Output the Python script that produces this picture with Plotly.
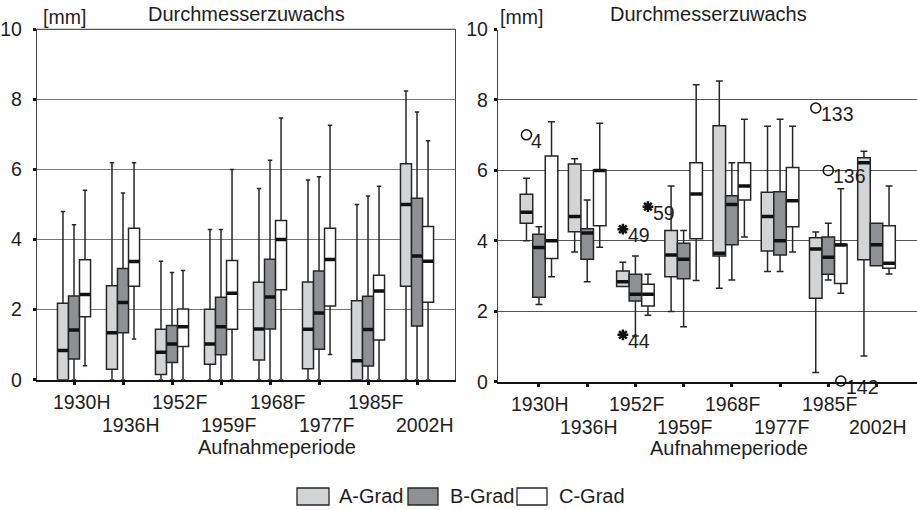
import plotly.graph_objects as go

W, H = 917, 510

categories = ["1930H", "1936H", "1952F", "1959F", "1968F", "1977F", "1985F", "2002H"]
grades = ["A-Grad", "B-Grad", "C-Grad"]

# ---- left panel (values in mm) ----
L_A_lo = [0, 0, 0, 0, 0, 0, 0, 0]
L_A_q1 = [0, 0.30, 0.15, 0.44, 0.56, 0.31, 0, 2.67]
L_A_med = [0.83, 1.34, 0.78, 1.02, 1.45, 1.44, 0.54, 5.0]
L_A_q3 = [2.18, 2.68, 1.44, 2.01, 2.78, 2.79, 2.25, 6.16]
L_A_hi = [4.80, 6.19, 3.38, 4.29, 5.46, 5.70, 5.0, 8.24]

L_B_lo = [0, 0, 0, 0, 0, 0, 0, 0]
L_B_q1 = [0.59, 1.34, 0.49, 0.71, 1.45, 0.87, 0.39, 1.53]
L_B_med = [1.42, 2.20, 1.02, 1.51, 2.36, 1.90, 1.43, 3.53]
L_B_q3 = [2.39, 3.17, 1.55, 2.35, 3.44, 3.10, 2.38, 5.18]
L_B_hi = [4.42, 5.33, 3.06, 4.29, 6.26, 5.79, 5.24, 7.64]

L_C_lo = [0.40, 1.16, 0, 0, 0, 0.72, 0, 0]
L_C_q1 = [1.80, 2.67, 0.95, 1.44, 2.57, 2.10, 1.13, 2.21]
L_C_med = [2.43, 3.37, 1.51, 2.47, 4.0, 3.43, 2.53, 3.38]
L_C_q3 = [3.42, 4.32, 2.02, 3.40, 4.54, 4.32, 2.98, 4.37]
L_C_hi = [5.41, 6.19, 3.12, 6.0, 7.47, 7.26, 5.52, 6.82]

# ---- right panel (values in mm) ----
R_A_lo = [4.0, 3.68, 2.70, 1.99, 2.65, 3.13, 0.26, 0.73]
R_A_q1 = [4.50, 4.26, 2.70, 2.98, 3.57, 3.71, 2.37, 3.46]
R_A_med = [4.81, 4.69, 2.84, 3.60, 3.65, 4.69, 3.77, 6.22]
R_A_q3 = [5.32, 6.18, 3.14, 4.29, 7.27, 5.38, 4.09, 6.36]
R_A_hi = [5.78, 6.33, 3.39, 5.56, 8.54, 7.25, 4.25, 6.54]

R_B_lo = [2.19, 2.84, 1.30, 1.56, 2.89, 3.13, 2.89, 3.29]
R_B_q1 = [2.40, 3.48, 2.29, 2.92, 3.89, 3.60, 3.05, 3.29]
R_B_med = [3.81, 4.22, 2.48, 3.48, 5.03, 4.0, 3.53, 3.89]
R_B_q3 = [4.19, 4.34, 3.05, 3.93, 5.28, 5.39, 4.11, 4.50]
R_B_hi = [4.40, 5.16, 3.57, 4.29, 6.22, 7.45, 4.50, 4.50]

R_C_lo = [2.98, 3.82, 1.89, 2.87, 4.11, 3.68, 2.51, 3.06]
R_C_q1 = [3.50, 4.43, 2.15, 4.06, 5.16, 4.40, 2.79, 3.22]
R_C_med = [4.0, 6.0, 2.48, 5.33, 5.56, 5.14, 3.88, 3.36]
R_C_q3 = [6.41, 6.02, 2.77, 6.22, 6.22, 6.08, 3.90, 4.43]
R_C_hi = [7.38, 7.34, 3.05, 8.43, 7.45, 7.25, 5.48, 5.56]

# outliers / extremes (right panel)
R_out_cat = ["1930H", "1952F", "1952F", "1952F", "1985F", "1985F", "1985F"]
R_out_grade = ["A-Grad", "A-Grad", "A-Grad", "C-Grad", "A-Grad", "B-Grad", "C-Grad"]
R_out_val = [7.01, 4.33, 1.33, 4.97, 7.77, 6.0, 0.02]
R_out_label = ["4", "49", "44", "59", "133", "136", "142"]
R_out_kind = ["o", "*", "*", "*", "o", "o", "o"]

y_ticks = [0, 2, 4, 6, 8, 10]

FONT = "Liberation Sans, Arial, Helvetica, sans-serif"
TXT = "#1e1e1e"
fills = {"A-Grad": "#d3d4d6", "B-Grad": "#8f9093", "C-Grad": "#ffffff"}
EDGE = "#262626"

left_stats = {
    "A-Grad": (L_A_lo, L_A_q1, L_A_med, L_A_q3, L_A_hi),
    "B-Grad": (L_B_lo, L_B_q1, L_B_med, L_B_q3, L_B_hi),
    "C-Grad": (L_C_lo, L_C_q1, L_C_med, L_C_q3, L_C_hi),
}
right_stats = {
    "A-Grad": (R_A_lo, R_A_q1, R_A_med, R_A_q3, R_A_hi),
    "B-Grad": (R_B_lo, R_B_q1, R_B_med, R_B_q3, R_B_hi),
    "C-Grad": (R_C_lo, R_C_q1, R_C_med, R_C_q3, R_C_hi),
}

panels = [
    dict(stats=left_stats, xa="x", ya="y", bw=0.225, ww=0.4),
    dict(stats=right_stats, xa="x2", ya="y2", bw=0.26, ww=0.55),
]

fig = go.Figure()
idx = list(range(len(categories)))

for p in panels:
    bw = p["bw"]
    for gi, g in enumerate(grades):
        lo, q1, med, q3, hi = p["stats"][g]
        pos = [i + (gi - 1) * bw for i in idx]
        fig.add_trace(go.Box(
            x=pos, q1=q1, median=med, q3=q3, lowerfence=lo, upperfence=hi,
            width=bw, fillcolor=fills[g], line=dict(color=EDGE, width=1.5),
            whiskerwidth=p["ww"], xaxis=p["xa"], yaxis=p["ya"],
            showlegend=False, hoverinfo="skip"))
    # thick median bars
    for gi, g in enumerate(grades):
        lo, q1, med, q3, hi = p["stats"][g]
        mx, my = [], []
        for i in idx:
            c = i + (gi - 1) * bw
            mx += [c - bw / 2 + 0.01, c + bw / 2 - 0.01, None]
            my += [med[i], med[i], None]
        fig.add_trace(go.Scatter(x=mx, y=my, mode="lines",
                                 line=dict(color="#111", width=3.5),
                                 xaxis=p["xa"], yaxis=p["ya"],
                                 showlegend=False, hoverinfo="skip"))

# outliers
bwR = panels[1]["bw"]
ox = [categories.index(c) + (grades.index(g) - 1) * bwR for c, g in zip(R_out_cat, R_out_grade)]
for kind, sym, size, lw in [("o", "circle-open", 10, 1.5), ("*", "asterisk-open", 9, 2.5)]:
    sel = [k == kind for k in R_out_kind]
    fig.add_trace(go.Scatter(
        x=[x for x, s in zip(ox, sel) if s],
        y=[v for v, s in zip(R_out_val, sel) if s],
        mode="markers", cliponaxis=False,
        marker=dict(symbol=sym, size=size, color="#111", line=dict(color="#111", width=lw)),
        xaxis="x2", yaxis="y2", showlegend=False, hoverinfo="skip"))

annotations = []
for x, v, lab in zip(ox, R_out_val, R_out_label):
    annotations.append(dict(x=x, y=v, xref="x2", yref="y2", text=lab, showarrow=False,
                            xanchor="left", yanchor="middle", xshift=3, yshift=-6,
                            font=dict(family=FONT, size=19.5, color=TXT)))

# staggered category labels
for xa, ya, xs in [("x", "y", 7), ("x2", "y2", 1)]:
    for i, c in enumerate(categories):
        annotations.append(dict(x=i, y=0, xref=xa, yref=ya, text=c, showarrow=False,
                                xanchor="center", yanchor="top", xshift=xs,
                                yshift=-9 if i % 2 == 0 else -32,
                                font=dict(family=FONT, size=19.5, color=TXT)))

def py(px):
    return 1 - px / H

def tx(text, x, y, xanchor="left", size=19.5):
    annotations.append(dict(x=x / W, y=py(y), xref="paper", yref="paper", text=text,
                            showarrow=False, xanchor=xanchor, yanchor="top",
                            font=dict(family=FONT, size=size, color=TXT)))

tx("[mm]", 41, 4)
tx("Durchmesserzuwachs", 246, 1, "center", 20)
tx("[mm]", 498, 4)
tx("Durchmesserzuwachs", 708, 1, "center", 20)
tx("Aufnahmeperiode", 277, 434, "center", 20)
tx("Aufnahmeperiode", 729, 435, "center", 20)

# manual legend
shapes = []
leg = [("A-Grad", 297, 329, 337), ("B-Grad", 408, 438, 448), ("C-Grad", 517, 547, 557)]
for g, x0, x1, xt in leg:
    shapes.append(dict(type="rect", xref="paper", yref="paper", x0=x0 / W, x1=x1 / W,
                       y0=py(505), y1=py(488), fillcolor=fills[g],
                       line=dict(color=EDGE, width=1.3)))
    tx(g, xt, 483, "left", 20)

# top frame of left panel
shapes.append(dict(type="line", xref="x domain", yref="y domain", x0=0, x1=1, y0=1, y1=1,
                   line=dict(color="#555", width=1.2)))

xcommon = dict(tickvals=idx, showticklabels=False, ticks="outside", ticklen=3, tickwidth=3,
               tickcolor="#111", showline=True, linecolor="#111", linewidth=2,
               showgrid=False, zeroline=False, automargin=False)
ycommon = dict(range=[0, 10], tickvals=y_ticks, ticks="outside", ticklen=3, tickwidth=3,
               tickcolor="#111", showline=True, linecolor="#444", linewidth=1.3,
               showgrid=True, gridwidth=1, zeroline=False, automargin=False,
               tickfont=dict(family=FONT, size=19.5, color=TXT))

fig.update_layout(
    width=W, height=H, margin=dict(l=0, r=0, t=0, b=0),
    paper_bgcolor="white", plot_bgcolor="white", showlegend=False,
    xaxis=dict(domain=[37 / W, 455 / W], range=[-0.755, 7.775], anchor="y", **xcommon),
    yaxis=dict(domain=[py(379.7), py(29.3)], anchor="x", mirror=True, gridcolor="#7a7a7a",
               ticklabelstandoff=7, **ycommon),
    xaxis2=dict(domain=[498 / W, 1.0], range=[-0.85, 7.84], anchor="y2", **xcommon),
    yaxis2=dict(domain=[py(381.7), py(29.5)], anchor="x2", gridcolor="#555",
                ticklabelstandoff=2, **ycommon),
    annotations=annotations, shapes=shapes,
)

fig.write_html("out.html")
